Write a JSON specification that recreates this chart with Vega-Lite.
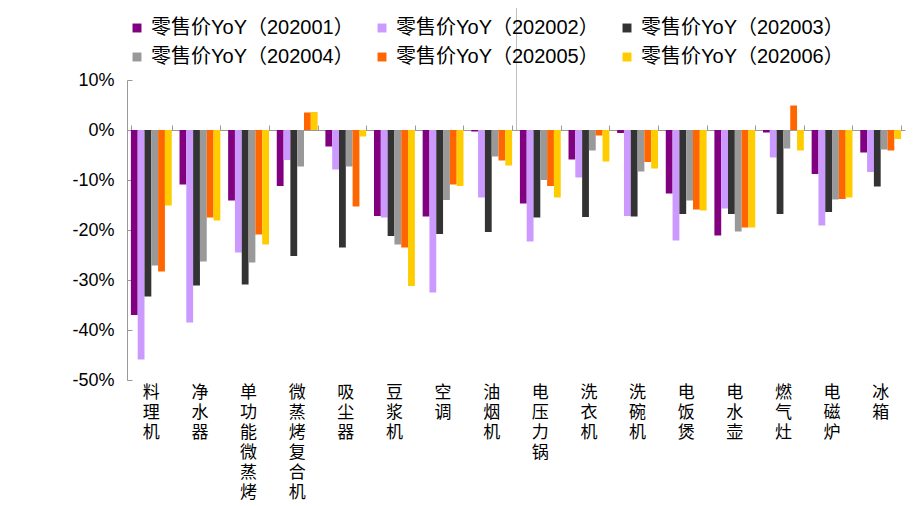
{
  "$schema": "https://vega.github.io/schema/vega-lite/v6.json",
  "width": 778,
  "height": 300,
  "autosize": {"type": "none"},
  "padding": {"left": 127, "top": 80, "right": 17, "bottom": 126},
  "config": {
    "font": "Liberation Sans, Noto Sans CJK SC",
    "view": {"stroke": null},
    "axis": {"labelColor": "#000000", "labelFont": "Liberation Sans, Noto Sans CJK SC"}
  },
  "datasets": {
    "header": [{"p": 24.4}]
  },
  "data": {
    "values": [
      {"c": "料理机", "s": "零售价YoY（202001）", "v": -37.0},
      {"c": "料理机", "s": "零售价YoY（202002）", "v": -45.9},
      {"c": "料理机", "s": "零售价YoY（202003）", "v": -33.3},
      {"c": "料理机", "s": "零售价YoY（202004）", "v": -27.1},
      {"c": "料理机", "s": "零售价YoY（202005）", "v": -28.3},
      {"c": "料理机", "s": "零售价YoY（202006）", "v": -15.1},
      {"c": "净水器", "s": "零售价YoY（202001）", "v": -10.9},
      {"c": "净水器", "s": "零售价YoY（202002）", "v": -38.5},
      {"c": "净水器", "s": "零售价YoY（202003）", "v": -31.1},
      {"c": "净水器", "s": "零售价YoY（202004）", "v": -26.3},
      {"c": "净水器", "s": "零售价YoY（202005）", "v": -17.5},
      {"c": "净水器", "s": "零售价YoY（202006）", "v": -18.1},
      {"c": "单功能微蒸烤", "s": "零售价YoY（202001）", "v": -14.1},
      {"c": "单功能微蒸烤", "s": "零售价YoY（202002）", "v": -24.5},
      {"c": "单功能微蒸烤", "s": "零售价YoY（202003）", "v": -30.9},
      {"c": "单功能微蒸烤", "s": "零售价YoY（202004）", "v": -26.5},
      {"c": "单功能微蒸烤", "s": "零售价YoY（202005）", "v": -20.9},
      {"c": "单功能微蒸烤", "s": "零售价YoY（202006）", "v": -22.9},
      {"c": "微蒸烤复合机", "s": "零售价YoY（202001）", "v": -11.2},
      {"c": "微蒸烤复合机", "s": "零售价YoY（202002）", "v": -6.0},
      {"c": "微蒸烤复合机", "s": "零售价YoY（202003）", "v": -25.2},
      {"c": "微蒸烤复合机", "s": "零售价YoY（202004）", "v": -7.3},
      {"c": "微蒸烤复合机", "s": "零售价YoY（202005）", "v": 3.5},
      {"c": "微蒸烤复合机", "s": "零售价YoY（202006）", "v": 3.6},
      {"c": "吸尘器", "s": "零售价YoY（202001）", "v": -3.3},
      {"c": "吸尘器", "s": "零售价YoY（202002）", "v": -7.9},
      {"c": "吸尘器", "s": "零售价YoY（202003）", "v": -23.5},
      {"c": "吸尘器", "s": "零售价YoY（202004）", "v": -7.3},
      {"c": "吸尘器", "s": "零售价YoY（202005）", "v": -15.3},
      {"c": "吸尘器", "s": "零售价YoY（202006）", "v": -1.3},
      {"c": "豆浆机", "s": "零售价YoY（202001）", "v": -17.2},
      {"c": "豆浆机", "s": "零售价YoY（202002）", "v": -17.5},
      {"c": "豆浆机", "s": "零售价YoY（202003）", "v": -21.2},
      {"c": "豆浆机", "s": "零售价YoY（202004）", "v": -22.9},
      {"c": "豆浆机", "s": "零售价YoY（202005）", "v": -23.5},
      {"c": "豆浆机", "s": "零售价YoY（202006）", "v": -31.2},
      {"c": "空调", "s": "零售价YoY（202001）", "v": -17.3},
      {"c": "空调", "s": "零售价YoY（202002）", "v": -32.5},
      {"c": "空调", "s": "零售价YoY（202003）", "v": -20.8},
      {"c": "空调", "s": "零售价YoY（202004）", "v": -14.0},
      {"c": "空调", "s": "零售价YoY（202005）", "v": -10.9},
      {"c": "空调", "s": "零售价YoY（202006）", "v": -11.2},
      {"c": "油烟机", "s": "零售价YoY（202001）", "v": -0.3},
      {"c": "油烟机", "s": "零售价YoY（202002）", "v": -13.5},
      {"c": "油烟机", "s": "零售价YoY（202003）", "v": -20.4},
      {"c": "油烟机", "s": "零售价YoY（202004）", "v": -5.3},
      {"c": "油烟机", "s": "零售价YoY（202005）", "v": -6.1},
      {"c": "油烟机", "s": "零售价YoY（202006）", "v": -7.1},
      {"c": "电压力锅", "s": "零售价YoY（202001）", "v": -14.7},
      {"c": "电压力锅", "s": "零售价YoY（202002）", "v": -22.3},
      {"c": "电压力锅", "s": "零售价YoY（202003）", "v": -17.5},
      {"c": "电压力锅", "s": "零售价YoY（202004）", "v": -10.0},
      {"c": "电压力锅", "s": "零售价YoY（202005）", "v": -11.2},
      {"c": "电压力锅", "s": "零售价YoY（202006）", "v": -13.5},
      {"c": "洗衣机", "s": "零售价YoY（202001）", "v": -5.9},
      {"c": "洗衣机", "s": "零售价YoY（202002）", "v": -9.5},
      {"c": "洗衣机", "s": "零售价YoY（202003）", "v": -17.4},
      {"c": "洗衣机", "s": "零售价YoY（202004）", "v": -4.1},
      {"c": "洗衣机", "s": "零售价YoY（202005）", "v": -1.1},
      {"c": "洗衣机", "s": "零售价YoY（202006）", "v": -6.3},
      {"c": "洗碗机", "s": "零售价YoY（202001）", "v": -0.6},
      {"c": "洗碗机", "s": "零售价YoY（202002）", "v": -17.2},
      {"c": "洗碗机", "s": "零售价YoY（202003）", "v": -17.3},
      {"c": "洗碗机", "s": "零售价YoY（202004）", "v": -8.3},
      {"c": "洗碗机", "s": "零售价YoY（202005）", "v": -6.4},
      {"c": "洗碗机", "s": "零售价YoY（202006）", "v": -7.7},
      {"c": "电饭煲", "s": "零售价YoY（202001）", "v": -12.7},
      {"c": "电饭煲", "s": "零售价YoY（202002）", "v": -22.1},
      {"c": "电饭煲", "s": "零售价YoY（202003）", "v": -16.8},
      {"c": "电饭煲", "s": "零售价YoY（202004）", "v": -14.1},
      {"c": "电饭煲", "s": "零售价YoY（202005）", "v": -15.9},
      {"c": "电饭煲", "s": "零售价YoY（202006）", "v": -16.1},
      {"c": "电水壶", "s": "零售价YoY（202001）", "v": -21.1},
      {"c": "电水壶", "s": "零售价YoY（202002）", "v": -15.7},
      {"c": "电水壶", "s": "零售价YoY（202003）", "v": -16.8},
      {"c": "电水壶", "s": "零售价YoY（202004）", "v": -20.3},
      {"c": "电水壶", "s": "零售价YoY（202005）", "v": -19.5},
      {"c": "电水壶", "s": "零售价YoY（202006）", "v": -19.5},
      {"c": "燃气灶", "s": "零售价YoY（202001）", "v": -0.5},
      {"c": "燃气灶", "s": "零售价YoY（202002）", "v": -5.5},
      {"c": "燃气灶", "s": "零售价YoY（202003）", "v": -16.8},
      {"c": "燃气灶", "s": "零售价YoY（202004）", "v": -3.7},
      {"c": "燃气灶", "s": "零售价YoY（202005）", "v": 4.9},
      {"c": "燃气灶", "s": "零售价YoY（202006）", "v": -4.1},
      {"c": "电磁炉", "s": "零售价YoY（202001）", "v": -8.8},
      {"c": "电磁炉", "s": "零售价YoY（202002）", "v": -19.1},
      {"c": "电磁炉", "s": "零售价YoY（202003）", "v": -16.4},
      {"c": "电磁炉", "s": "零售价YoY（202004）", "v": -13.9},
      {"c": "电磁炉", "s": "零售价YoY（202005）", "v": -13.8},
      {"c": "电磁炉", "s": "零售价YoY（202006）", "v": -13.5},
      {"c": "冰箱", "s": "零售价YoY（202001）", "v": -4.5},
      {"c": "冰箱", "s": "零售价YoY（202002）", "v": -8.4},
      {"c": "冰箱", "s": "零售价YoY（202003）", "v": -11.3},
      {"c": "冰箱", "s": "零售价YoY（202004）", "v": -3.9},
      {"c": "冰箱", "s": "零售价YoY（202005）", "v": -4.1},
      {"c": "冰箱", "s": "零售价YoY（202006）", "v": -1.8}
    ]
  },
  "layer": [
    {
      "mark": {"type": "bar"},
      "encoding": {
        "x": {
          "field": "c",
          "type": "nominal",
          "sort": null,
          "scale": {"paddingInner": 0.16, "paddingOuter": 0.08},
          "axis": {
            "orient": "bottom",
            "title": null,
            "domain": false,
            "ticks": false,
            "labelAngle": 0,
            "labelExpr": "split(datum.label, '')",
            "labelFont": "Noto Sans CJK SC",
            "labelFontSize": 17,
            "labelLineHeight": 20,
            "labelBaseline": "top",
            "labelPadding": 4
          }
        },
        "xOffset": {
          "field": "s",
          "type": "nominal",
          "sort": null,
          "scale": {"paddingInner": 0, "paddingOuter": 0}
        },
        "y": {
          "field": "v",
          "type": "quantitative",
          "scale": {"domain": [-50, 10], "nice": false},
          "axis": {
            "title": null,
            "grid": false,
            "values": [-50, -40, -30, -20, -10, 0, 10],
            "labelExpr": "datum.value + '%'",
            "labelFontSize": 18,
            "domainColor": "#999999",
            "tickColor": "#999999",
            "tickSize": -5,
            "labelPadding": 18
          }
        },
        "color": {
          "field": "s",
          "type": "nominal",
          "sort": null,
          "scale": {"range": ["#800080", "#CC99FF", "#333333", "#999999", "#FF6600", "#FFCC00"]},
          "legend": {
            "title": null,
            "orient": "none",
            "direction": "horizontal",
            "legendX": 0,
            "legendY": -62,
            "columns": 3,
            "symbolType": "square",
            "symbolSize": 80,
            "symbolStrokeWidth": 0,
            "labelFont": "Liberation Sans, Noto Sans CJK SC",
            "labelFontSize": 20,
            "labelLimit": 0,
            "labelOffset": 4,
            "columnPadding": 18,
            "rowPadding": 9
          }
        }
      }
    },
    {
      "mark": {"type": "rule", "opacity": 0},
      "encoding": {
        "x": {
          "field": "c",
          "type": "nominal",
          "sort": null,
          "axis": {
            "orient": "top",
            "offset": -50,
            "title": null,
            "labels": false,
            "domainColor": "#999999",
            "tickColor": "#999999",
            "tickBand": "extent",
            "tickSize": 5
          }
        }
      }
    },
    {
      "data": {"name": "header"},
      "mark": {"type": "bar", "color": "#000000", "height": 3, "clip": false},
      "encoding": {
        "y": {"field": "p", "type": "quantitative"}
      }
    }
  ],
  "resolve": {"axis": {"x": "independent"}}
}
